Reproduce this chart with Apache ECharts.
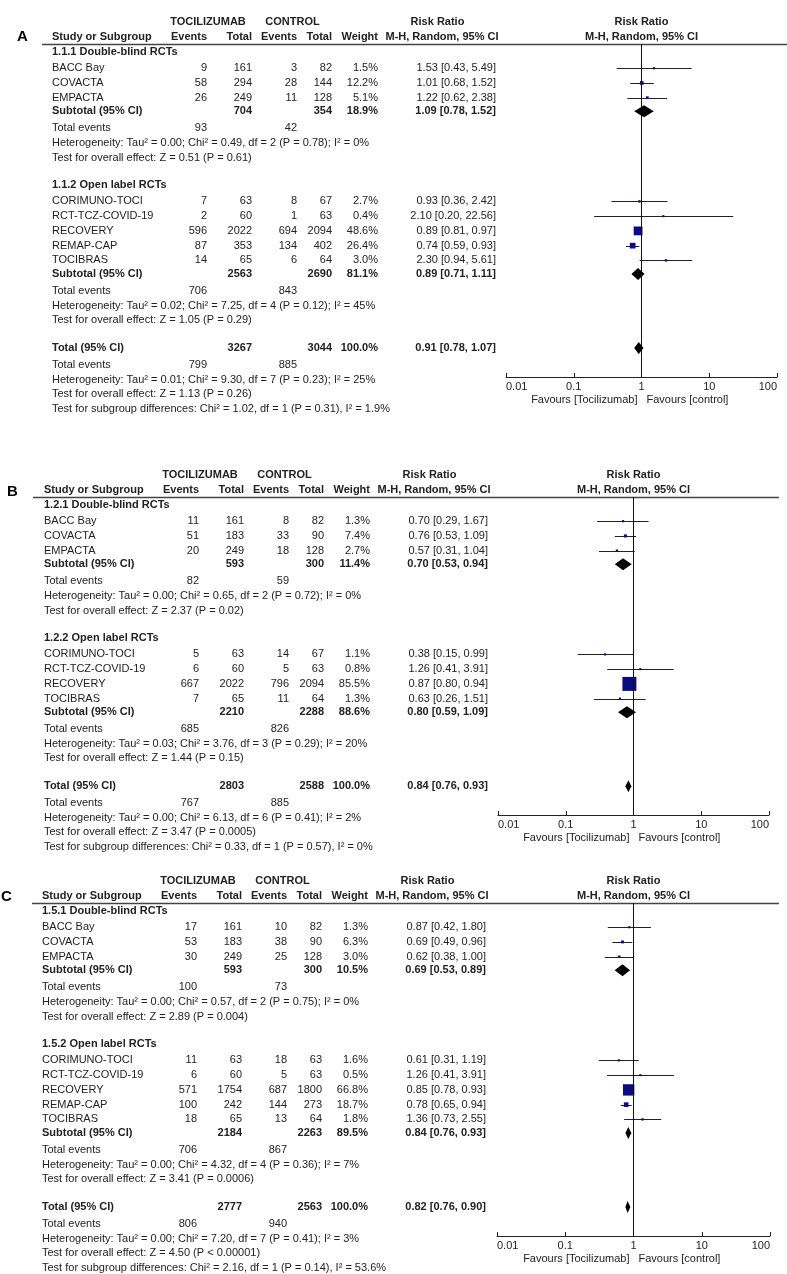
<!DOCTYPE html>
<html><head><meta charset="utf-8">
<script src="https://cdn.jsdelivr.net/npm/echarts@6/dist/echarts.min.js"></script>
<style>html,body{margin:0;padding:0;background:#fff}#c{width:787px;height:1274px}</style>
</head><body><div id="c"></div>
<script>
// ---------------- DATA ----------------
// study rows: [study, tociEvents, tociTotal, ctrlEvents, ctrlTotal, weight %, RR, lower 95% CI, upper 95% CI]
// summary rows: [tociTotal, ctrlTotal, weight %, RR, lower, upper, tociEvents, ctrlEvents]
const A1_label = '1.1.1 Double-blind RCTs';
const A1_rows = [
  ['BACC Bay', 9, 161, 3, 82, 1.5, 1.53, 0.43, 5.49],
  ['COVACTA', 58, 294, 28, 144, 12.2, 1.01, 0.68, 1.52],
  ['EMPACTA', 26, 249, 11, 128, 5.1, 1.22, 0.62, 2.38]
];
const A1_sub = [704, 354, 18.9, 1.09, 0.78, 1.52, 93, 42];
const A1_het = 'Heterogeneity: Tau² = 0.00; Chi² = 0.49, df = 2 (P = 0.78); I² = 0%';
const A1_test = 'Test for overall effect: Z = 0.51 (P = 0.61)';
const A2_label = '1.1.2 Open label RCTs';
const A2_rows = [
  ['CORIMUNO-TOCI', 7, 63, 8, 67, 2.7, 0.93, 0.36, 2.42],
  ['RCT-TCZ-COVID-19', 2, 60, 1, 63, 0.4, 2.10, 0.20, 22.56],
  ['RECOVERY', 596, 2022, 694, 2094, 48.6, 0.89, 0.81, 0.97],
  ['REMAP-CAP', 87, 353, 134, 402, 26.4, 0.74, 0.59, 0.93],
  ['TOCIBRAS', 14, 65, 6, 64, 3.0, 2.30, 0.94, 5.61]
];
const A2_sub = [2563, 2690, 81.1, 0.89, 0.71, 1.11, 706, 843];
const A2_het = 'Heterogeneity: Tau² = 0.02; Chi² = 7.25, df = 4 (P = 0.12); I² = 45%';
const A2_test = 'Test for overall effect: Z = 1.05 (P = 0.29)';
const A_total = [3267, 3044, 100.0, 0.91, 0.78, 1.07, 799, 885];
const A_totHet = 'Heterogeneity: Tau² = 0.01; Chi² = 9.30, df = 7 (P = 0.23); I² = 25%';
const A_totTest = 'Test for overall effect: Z = 1.13 (P = 0.26)';
const A_diff = 'Test for subgroup differences: Chi² = 1.02, df = 1 (P = 0.31), I² = 1.9%';

const B1_label = '1.2.1 Double-blind RCTs';
const B1_rows = [
  ['BACC Bay', 11, 161, 8, 82, 1.3, 0.70, 0.29, 1.67],
  ['COVACTA', 51, 183, 33, 90, 7.4, 0.76, 0.53, 1.09],
  ['EMPACTA', 20, 249, 18, 128, 2.7, 0.57, 0.31, 1.04]
];
const B1_sub = [593, 300, 11.4, 0.70, 0.53, 0.94, 82, 59];
const B1_het = 'Heterogeneity: Tau² = 0.00; Chi² = 0.65, df = 2 (P = 0.72); I² = 0%';
const B1_test = 'Test for overall effect: Z = 2.37 (P = 0.02)';
const B2_label = '1.2.2 Open label RCTs';
const B2_rows = [
  ['CORIMUNO-TOCI', 5, 63, 14, 67, 1.1, 0.38, 0.15, 0.99],
  ['RCT-TCZ-COVID-19', 6, 60, 5, 63, 0.8, 1.26, 0.41, 3.91],
  ['RECOVERY', 667, 2022, 796, 2094, 85.5, 0.87, 0.80, 0.94],
  ['TOCIBRAS', 7, 65, 11, 64, 1.3, 0.63, 0.26, 1.51]
];
const B2_sub = [2210, 2288, 88.6, 0.80, 0.59, 1.09, 685, 826];
const B2_het = 'Heterogeneity: Tau² = 0.03; Chi² = 3.76, df = 3 (P = 0.29); I² = 20%';
const B2_test = 'Test for overall effect: Z = 1.44 (P = 0.15)';
const B_total = [2803, 2588, 100.0, 0.84, 0.76, 0.93, 767, 885];
const B_totHet = 'Heterogeneity: Tau² = 0.00; Chi² = 6.13, df = 6 (P = 0.41); I² = 2%';
const B_totTest = 'Test for overall effect: Z = 3.47 (P = 0.0005)';
const B_diff = 'Test for subgroup differences: Chi² = 0.33, df = 1 (P = 0.57), I² = 0%';

const C1_label = '1.5.1 Double-blind RCTs';
const C1_rows = [
  ['BACC Bay', 17, 161, 10, 82, 1.3, 0.87, 0.42, 1.80],
  ['COVACTA', 53, 183, 38, 90, 6.3, 0.69, 0.49, 0.96],
  ['EMPACTA', 30, 249, 25, 128, 3.0, 0.62, 0.38, 1.00]
];
const C1_sub = [593, 300, 10.5, 0.69, 0.53, 0.89, 100, 73];
const C1_het = 'Heterogeneity: Tau² = 0.00; Chi² = 0.57, df = 2 (P = 0.75); I² = 0%';
const C1_test = 'Test for overall effect: Z = 2.89 (P = 0.004)';
const C2_label = '1.5.2 Open label RCTs';
const C2_rows = [
  ['CORIMUNO-TOCI', 11, 63, 18, 63, 1.6, 0.61, 0.31, 1.19],
  ['RCT-TCZ-COVID-19', 6, 60, 5, 63, 0.5, 1.26, 0.41, 3.91],
  ['RECOVERY', 571, 1754, 687, 1800, 66.8, 0.85, 0.78, 0.93],
  ['REMAP-CAP', 100, 242, 144, 273, 18.7, 0.78, 0.65, 0.94],
  ['TOCIBRAS', 18, 65, 13, 64, 1.8, 1.36, 0.73, 2.55]
];
const C2_sub = [2184, 2263, 89.5, 0.84, 0.76, 0.93, 706, 867];
const C2_het = 'Heterogeneity: Tau² = 0.00; Chi² = 4.32, df = 4 (P = 0.36); I² = 7%';
const C2_test = 'Test for overall effect: Z = 3.41 (P = 0.0006)';
const C_total = [2777, 2563, 100.0, 0.82, 0.76, 0.90, 806, 940];
const C_totHet = 'Heterogeneity: Tau² = 0.00; Chi² = 7.20, df = 7 (P = 0.41); I² = 3%';
const C_totTest = 'Test for overall effect: Z = 4.50 (P < 0.00001)';
const C_diff = 'Test for subgroup differences: Chi² = 2.16, df = 1 (P = 0.14), I² = 53.6%';

const axisTicks = [0.01, 0.1, 1, 10, 100];
const favoursLeft = 'Favours [Tocilizumab]';
const favoursRight = 'Favours [control]';

// ---------------- LAYOUT ----------------
const FONT = '"Liberation Sans", Arial, Helvetica, sans-serif';
const TXT = '#222';
const COL = {name:52, tEv:207, tTot:252, cEv:297, cTot:332, wt:378, rr:496, hToci:208, hCtrl:292.5, hRR:437.5, hMH:442};
const STEP = {lab:8, first:16.2, row:14.75, sub:13.5, ev:17, het:15, test:14.3, gap:27.7, tot:27.7, totEv:17, totHet:15, totTest:14.3, diff:14.3, axis:29};

const panels = [
  {letter:'A', letterX:17, letterDy:-7, lineY:44, lineX0:42, lineX1:787, dx:0, plotLeft:506, plotWidth:271,
   groups:[[A1_label,A1_rows,A1_sub,A1_het,A1_test],[A2_label,A2_rows,A2_sub,A2_het,A2_test]],
   total:[A_total,A_totHet,A_totTest,A_diff]},
  {letter:'B', letterX:7, letterDy:-5, lineY:497, lineX0:33, lineX1:779, dx:-8, plotLeft:498, plotWidth:271,
   groups:[[B1_label,B1_rows,B1_sub,B1_het,B1_test],[B2_label,B2_rows,B2_sub,B2_het,B2_test]],
   total:[B_total,B_totHet,B_totTest,B_diff]},
  {letter:'C', letterX:1, letterDy:-6, lineY:903, lineX0:32, lineX1:779, dx:-10, plotLeft:497, plotWidth:273,
   groups:[[C1_label,C1_rows,C1_sub,C1_het,C1_test],[C2_label,C2_rows,C2_sub,C2_het,C2_test]],
   total:[C_total,C_totHet,C_totTest,C_diff]}
];

const fmtRR = (r,l,h) => r.toFixed(2) + ' [' + l.toFixed(2) + ', ' + h.toFixed(2) + ']';
const fmtW = w => w.toFixed(1) + '%';

const graphics = [];
function txt(x, y, text, o) {
  o = o || {};
  const al = o.align || 'left';
  graphics.push({type:'text', x:x, y:y, silent:true, z:10,
    style:{text:text, font:(o.bold?'bold ':'') + (o.size||11) + 'px ' + FONT, fill:o.fill||TXT,
      align:al, textAlign:al, verticalAlign:'middle', textVerticalAlign:'middle'}});
}

const grids = [], xAxes = [], yAxes = [], series = [];

panels.forEach((P, pi) => {
  const X = k => COL[k] + P.dx;
  const Y0 = P.lineY;
  const ci = [], sq = [], dia = [];
  const cx = P.plotLeft + P.plotWidth / 2;
  // headers
  txt(P.letterX, Y0 + P.letterDy, P.letter, {bold:true, size:15, fill:'#000'});
  const h1 = Y0 - 22, h2 = Y0 - 7;
  txt(X('hToci'), h1, 'TOCILIZUMAB', {bold:true, align:'center'});
  txt(X('hCtrl'), h1, 'CONTROL', {bold:true, align:'center'});
  txt(X('hRR'), h1, 'Risk Ratio', {bold:true, align:'center'});
  txt(cx, h1, 'Risk Ratio', {bold:true, align:'center'});
  txt(X('name'), h2, 'Study or Subgroup', {bold:true});
  txt(X('tEv'), h2, 'Events', {bold:true, align:'right'});
  txt(X('tTot'), h2, 'Total', {bold:true, align:'right'});
  txt(X('cEv'), h2, 'Events', {bold:true, align:'right'});
  txt(X('cTot'), h2, 'Total', {bold:true, align:'right'});
  txt(X('wt'), h2, 'Weight', {bold:true, align:'right'});
  txt(X('hMH'), h2, 'M-H, Random, 95% CI', {bold:true, align:'center'});
  txt(cx, h2, 'M-H, Random, 95% CI', {bold:true, align:'center'});
  graphics.push({type:'line', silent:true, shape:{x1:P.lineX0, y1:Y0 + 0.5, x2:P.lineX1, y2:Y0 + 0.5},
    style:{stroke:'#444', lineWidth:1.5}});

  const summary = (label, s, y) => {
    txt(X('name'), y, label, {bold:true});
    txt(X('tTot'), y, String(s[0]), {bold:true, align:'right'});
    txt(X('cTot'), y, String(s[1]), {bold:true, align:'right'});
    txt(X('wt'), y, fmtW(s[2]), {bold:true, align:'right'});
    txt(X('rr'), y, fmtRR(s[3], s[4], s[5]), {bold:true, align:'right'});
    dia.push([s[3], s[4], s[5], y - Y0]);
  };
  const events = (s, y) => {
    txt(X('name'), y, 'Total events');
    txt(X('tEv'), y, String(s[6]), {align:'right'});
    txt(X('cEv'), y, String(s[7]), {align:'right'});
  };

  let y = Y0;
  P.groups.forEach((g, gi) => {
    const [label, rows, sub, het, test] = g;
    y += gi === 0 ? STEP.lab : STEP.gap;
    txt(X('name'), y, label, {bold:true});
    rows.forEach((r, ri) => {
      y += ri === 0 ? STEP.first : STEP.row;
      const [nm, te, tt, ce, ct, w, rr, lo, hi] = r;
      txt(X('name'), y, nm);
      txt(X('tEv'), y, String(te), {align:'right'});
      txt(X('tTot'), y, String(tt), {align:'right'});
      txt(X('cEv'), y, String(ce), {align:'right'});
      txt(X('cTot'), y, String(ct), {align:'right'});
      txt(X('wt'), y, fmtW(w), {align:'right'});
      txt(X('rr'), y, fmtRR(rr, lo, hi), {align:'right'});
      ci.push([lo, hi, y - Y0]);
      sq.push([rr, y - Y0, w]);
    });
    y += STEP.sub; summary('Subtotal (95% CI)', sub, y);
    y += STEP.ev; events(sub, y);
    y += STEP.het; txt(X('name'), y, het);
    y += STEP.test; txt(X('name'), y, test);
  });
  const [tot, totHet, totTest, diff] = P.total;
  y += STEP.tot; summary('Total (95% CI)', tot, y);
  const totalY = y;
  y += STEP.totEv; events(tot, y);
  y += STEP.totHet; txt(X('name'), y, totHet);
  y += STEP.totTest; txt(X('name'), y, totTest);
  y += STEP.diff; txt(X('name'), y, diff);

  const axisY = Math.round(totalY + STEP.axis);
  const H = axisY - Y0;
  txt(cx - 4, axisY + 23, favoursLeft, {align:'right'});
  txt(cx + 5, axisY + 23, favoursRight);

  grids.push({left:P.plotLeft, width:P.plotWidth, top:Y0, height:H, containLabel:false});
  xAxes.push({type:'log', logBase:10, gridIndex:pi, min:axisTicks[0], max:axisTicks[axisTicks.length-1], splitNumber:4,
    position:'bottom',
    axisLine:{show:true, onZero:false, lineStyle:{color:'#222', width:1}},
    axisTick:{show:true, inside:true, length:4, lineStyle:{color:'#222', width:1}},
    minorTick:{show:false}, splitLine:{show:false},
    axisLabel:{show:true, margin:4, fontSize:11, fontFamily:FONT, color:TXT,
      alignMinLabel:'left', alignMaxLabel:'right',
      formatter: v => String(+(+v).toPrecision(3))}});
  yAxes.push({type:'value', gridIndex:pi, min:0, max:H, inverse:true, show:false});

  series.push({
    type:'custom', xAxisIndex:pi, yAxisIndex:pi, data:ci, encode:{x:[0,1], y:2}, z:3, silent:true,
    renderItem:(params, api) => {
      const a = api.coord([api.value(0), api.value(2)]);
      const b = api.coord([api.value(1), api.value(2)]);
      const yy = Math.round(a[1]) + 0.5;
      return {type:'line', shape:{x1:a[0], y1:yy, x2:b[0], y2:yy}, style:{stroke:'#222', lineWidth:1}};
    },
    markLine:{silent:true, symbol:['none','none'], label:{show:false}, animation:false,
      lineStyle:{color:'#111', width:1, type:'solid'}, data:[{xAxis:1}]}
  });
  series.push({
    type:'scatter', xAxisIndex:pi, yAxisIndex:pi, data:sq, symbol:'rect', z:4, silent:true,
    symbolSize: v => 2 + 0.14 * v[2],
    itemStyle:{color:'#0a0a82', opacity:1}
  });
  series.push({
    type:'custom', xAxisIndex:pi, yAxisIndex:pi, data:dia, encode:{x:[0,1,2], y:3}, z:5, silent:true,
    renderItem:(params, api) => {
      const yv = api.value(3);
      const c = api.coord([api.value(0), yv]);
      const l = api.coord([api.value(1), yv]);
      const r = api.coord([api.value(2), yv]);
      const hh = 6;
      return {type:'polygon', shape:{points:[[l[0], c[1]], [c[0], c[1] - hh], [r[0], c[1]], [c[0], c[1] + hh]]},
        style:{fill:'#000'}};
    }
  });
});

const chart = echarts.init(document.getElementById('c'), null, {renderer:'canvas'});
chart.setOption({
  animation:false,
  backgroundColor:'#fff',
  grid:grids, xAxis:xAxes, yAxis:yAxes, series:series,
  graphic:{elements:graphics}
});
</script>
</body></html>
